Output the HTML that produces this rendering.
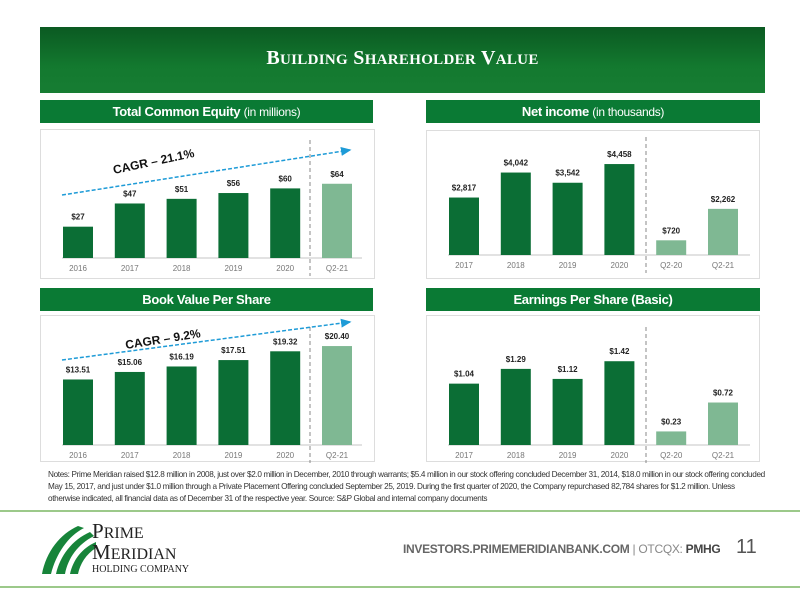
<!DOCTYPE html>
<html><head><meta charset="utf-8"><style>
body{margin:0;width:800px;height:600px;background:#fff;font-family:"Liberation Sans",sans-serif;overflow:hidden;position:relative}
.abs{position:absolute}
.hdr{position:absolute;background:#0a7a34;color:#fff;text-align:center;font-weight:bold;font-size:13px;line-height:23px;height:23px;letter-spacing:-0.3px}
.hdr span{font-weight:normal;font-size:12px}
.box{position:absolute;border:1px solid #ddd;box-sizing:border-box}
</style></head><body>
<div class="abs" style="left:40px;top:27px;width:725px;height:66px;background:linear-gradient(#0b5a22,#13792f 60%,#177d33);"></div>
<div class="abs" style="left:40px;top:47px;width:725px;text-align:center;color:#fff;font-family:'Liberation Serif',serif;font-weight:bold;font-size:20px;letter-spacing:0.3px">B<span style="font-size:15px">UILDING</span> S<span style="font-size:15px">HAREHOLDER</span> V<span style="font-size:15px">ALUE</span></div>

<div class="hdr" style="left:40px;top:100px;width:333px">Total Common Equity <span>(in millions)</span></div>
<div class="hdr" style="left:426px;top:100px;width:334px">Net income <span>(in thousands)</span></div>
<div class="hdr" style="left:40px;top:288px;width:333px">Book Value Per Share</div>
<div class="hdr" style="left:426px;top:288px;width:334px">Earnings Per Share (Basic)</div>

<div class="box" style="left:40px;top:129px;width:335px;height:150px"></div>
<div class="box" style="left:426px;top:130px;width:334px;height:149px"></div>
<div class="box" style="left:40px;top:315px;width:335px;height:147px"></div>
<div class="box" style="left:426px;top:315px;width:334px;height:147px"></div>

<svg id="charts" class="abs" style="left:0;top:0" width="800" height="600">
<defs><marker id="ah" markerWidth="8" markerHeight="8" refX="6" refY="3" orient="auto"><path d="M0,0 L7,3 L0,6 z" fill="#1e9bd7"/></marker></defs>
</svg>

<div class="abs" style="left:48px;top:469px;width:720px;font-size:8.2px;line-height:12px;color:#333;letter-spacing:-0.35px">Notes: Prime Meridian raised $12.8 million in 2008, just over $2.0 million in December, 2010 through warrants; $5.4 million in our stock offering concluded December 31, 2014, $18.0 million in our stock offering concluded May 15, 2017, and just under $1.0 million through a Private Placement Offering concluded September 25, 2019. During the first quarter of 2020, the Company repurchased 82,784 shares for $1.2 million. Unless otherwise indicated, all financial data as of December 31 of the respective year. Source: S&amp;P Global and internal company documents</div>

<div class="abs" style="left:0;top:510px;width:800px;height:2px;background:#9cc98a"></div>
<div class="abs" style="left:0;top:586px;width:800px;height:2px;background:#9cc98a"></div>

<svg class="abs" style="left:38px;top:522px" width="60" height="55">
<path d="M4,52 C8,30 22,12 40,4 L46,6 C30,14 18,32 13,52 Z" fill="#17843a"/>
<path d="M18,52 C22,34 34,18 52,10 L56,14 C40,22 30,36 27,52 Z" fill="#17843a"/>
<path d="M32,52 C35,38 44,26 58,20 L58,26 C48,32 42,42 40,52 Z" fill="#17843a"/>
</svg>
<div class="abs" style="left:92px;top:522px;font-family:'Liberation Serif',serif;color:#222;line-height:19px">
<div style="font-size:21px">P<span style="font-size:16px">RIME</span></div>
<div style="font-size:21px">M<span style="font-size:16px">ERIDIAN</span></div>
<div style="font-size:10px;line-height:12px">HOLDING COMPANY</div></div>

<div class="abs" style="left:403px;top:542px;font-size:12px;color:#666;font-weight:bold;letter-spacing:-0.3px">INVESTORS.PRIMEMERIDIANBANK.COM <span style="font-weight:normal;color:#888">| OTCQX:</span> <span style="color:#444">PMHG</span></div>
<div class="abs" style="left:736px;top:536px;font-size:20px;color:#555">11</div>

<script>
const eqCats=["2016","2017","2018","2019","2020","Q2-21"];
const eqVals=[27,47,51,56,60,64];
const eqLabels=["$27","$47","$51","$56","$60","$64"];
const niCats=["2017","2018","2019","2020","Q2-20","Q2-21"];
const niVals=[2817,4042,3542,4458,720,2262];
const niLabels=["$2,817","$4,042","$3,542","$4,458","$720","$2,262"];
const bvCats=["2016","2017","2018","2019","2020","Q2-21"];
const bvVals=[13.51,15.06,16.19,17.51,19.32,20.40];
const bvLabels=["$13.51","$15.06","$16.19","$17.51","$19.32","$20.40"];
const epsCats=["2017","2018","2019","2020","Q2-20","Q2-21"];
const epsVals=[1.04,1.29,1.12,1.42,0.23,0.72];
const epsLabels=["$1.04","$1.29","$1.12","$1.42","$0.23","$0.72"];

const svg=document.getElementById('charts');
const NS="http://www.w3.org/2000/svg";
function mk(t,a){const e=document.createElementNS(NS,t);for(const k in a)e.setAttribute(k,a[k]);svg.appendChild(e);return e;}

function chart(name,cats,vals,labels,x0,base,scale,light,dashX,axisL,axisR,catY){
  const ax=mk('line',{x1:axisL,y1:base,x2:axisR,y2:base,stroke:'#d8d8d8','stroke-width':1.5});
  
  
  const dl=mk('line',{x1:dashX,y1:base-118,x2:dashX,y2:base+18,stroke:'#888','stroke-width':1,'stroke-dasharray':'4,3'});
  
  
  cats.forEach((c,i)=>{
    const cx=x0+i*51.8, h=vals[i]*scale;
    const r=mk('rect',{x:cx-15,y:base-h,width:30,height:h,fill:light[i]?'#7fb893':'#0b6e35'});
    
    
    const t=mk('text',{x:cx,y:base-h-7,'text-anchor':'middle','font-size':8,'font-weight':'bold',fill:'#222','font-family':'Liberation Sans'});
    t.textContent=labels[i];
    
    
    const l=mk('text',{x:cx,y:catY,'text-anchor':'middle','font-size':8,fill:'#777','font-family':'Liberation Sans'});
    l.textContent=c;
    
    
  });
}
chart('equity',eqCats,eqVals,eqLabels,78,258,1.16,[0,0,0,0,0,1],310,62,362,271);
chart('net-income',niCats,niVals,niLabels,464,255,0.0204,[0,0,0,0,1,1],646,448,750,268);
chart('bvps',bvCats,bvVals,bvLabels,78,445,4.85,[0,0,0,0,0,1],310,62,362,458);
chart('eps',epsCats,epsVals,epsLabels,464,445,59,[0,0,0,0,1,1],646,448,750,458);

function cagr(name,x1,y1,x2,y2,txt,tx,ty,ang){
  const a=mk('line',{x1:x1,y1:y1,x2:x2,y2:y2,stroke:'#1e9bd7','stroke-width':1.5,'stroke-dasharray':'4,2','marker-end':'url(#ah)'});
  
  
  const t=mk('text',{x:tx,y:ty,'font-size':12,'font-weight':'bold',fill:'#111','font-family':'Liberation Sans',transform:`rotate(${ang} ${tx} ${ty})`});
  t.textContent=txt;
  
  
}
cagr('equity',62,195,350,150,'CAGR – 21.1%',114,174,-12);
cagr('bvps',62,360,350,322,'CAGR – 9.2%',126,349,-9);
</script>
</body></html>
